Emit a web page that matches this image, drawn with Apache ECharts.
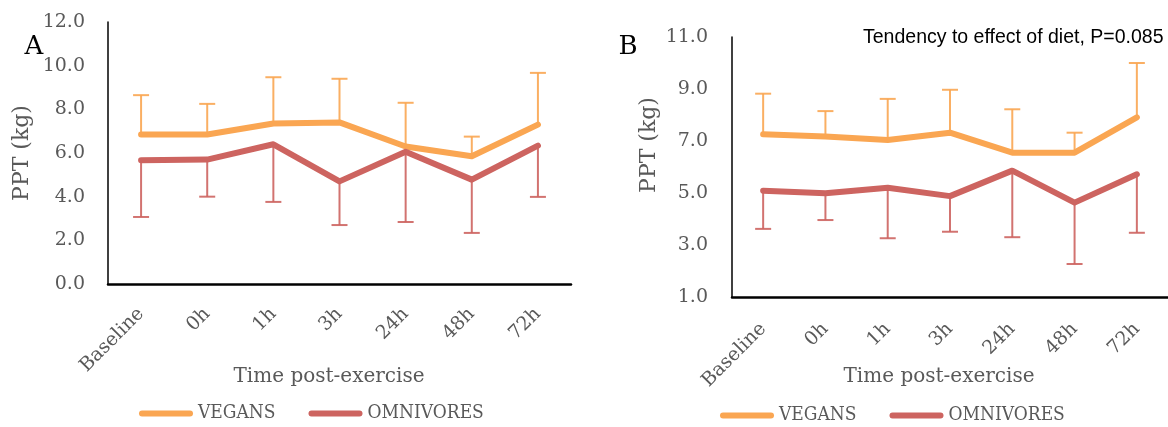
<!DOCTYPE html>
<html>
<head>
<meta charset="utf-8">
<script src="https://cdn.jsdelivr.net/npm/echarts@6/dist/echarts.min.js"></script>
<style>html,body{margin:0;padding:0;background:#fff}#c{width:1168px;height:427px}</style>
</head>
<body>
<div id="c"></div>
<script>
// ---- data ----
const categories = ['Baseline', '0h', '1h', '3h', '24h', '48h', '72h'];
const seriesNames = ['VEGANS', 'OMNIVORES'];

// Panel A
const veganA = [6.85, 6.85, 7.35, 7.4, 6.3, 5.85, 7.3];
const veganA_sd = [1.8, 1.4, 2.12, 2.0, 2.0, 0.9, 2.37];
const omniA = [5.67, 5.7, 6.4, 4.7, 6.06, 4.78, 6.34];
const omniA_sd = [2.6, 1.7, 2.64, 2.0, 3.22, 2.44, 2.35];
const yTicksA = [0, 2, 4, 6, 8, 10, 12];

// Panel B
const veganB = [7.26, 7.17, 7.04, 7.32, 6.55, 6.55, 7.91];
const veganB_sd = [1.56, 0.98, 1.58, 1.65, 1.67, 0.77, 2.09];
const omniB = [5.09, 4.99, 5.2, 4.88, 5.86, 4.63, 5.72];
const omniB_sd = [1.47, 1.03, 1.94, 1.37, 2.56, 2.36, 2.25];
const yTicksB = [1, 3, 5, 7, 9, 11];

const xTitle = 'Time post-exercise';
const yTitle = 'PPT (kg)';
const note = 'Tendency to effect of diet, P=0.085';

// ---- styles ----
const ORANGE = '#FAA652';
const RED = '#CD6460';
const GREY = '#595959';
const SERIF = 'DejaVu Serif';

function errRender(color, dir) {
  return function (params, api) {
    const x = api.value(0), m = api.value(1), s = api.value(2);
    const p0 = api.coord([x, m]);
    const p1 = api.coord([x, m + dir * s]);
    const half = 8;
    const style = { stroke: color, lineWidth: 2, opacity: 0.9 };
    return {
      type: 'group',
      children: [
        { type: 'line', shape: { x1: p0[0], y1: p0[1], x2: p1[0], y2: p1[1] }, style: style },
        { type: 'line', shape: { x1: p1[0] - half, y1: p1[1], x2: p1[0] + half, y2: p1[1] }, style: style }
      ]
    };
  };
}
function errData(means, sds) {
  return means.map((m, i) => [i, m, sds[i]]);
}

function xAxisCfg(gridIndex, margin) {
  return {
    type: 'category', gridIndex: gridIndex, data: categories, boundaryGap: true,
    axisLine: { lineStyle: { color: '#000', width: 2.5 } },
    axisTick: { show: false },
    axisLabel: { rotate: 45, interval: 0, margin: margin, color: GREY, fontFamily: SERIF, fontSize: 19 },
    splitLine: { show: false }
  };
}
function yAxisCfg(gridIndex, min, max, ticks, margin) {
  return {
    type: 'value', gridIndex: gridIndex, min: min, max: max,
    axisLine: { show: true, lineStyle: { color: '#000', width: 1.5 } },
    axisTick: { show: false },
    splitLine: { show: false },
    axisLabel: {
      customValues: ticks, margin: margin, color: GREY, fontFamily: SERIF, fontSize: 19,
      padding: [5, 0, 0, 0],
      formatter: v => v.toFixed(1)
    }
  };
}
function lineSeries(name, data, color, idx) {
  return {
    name: name, type: 'line', xAxisIndex: idx, yAxisIndex: idx, data: data,
    symbol: 'none', z: 3,
    lineStyle: { color: color, width: 6, cap: 'round', join: 'round' },
    itemStyle: { color: color }
  };
}
function errSeries(name, means, sds, color, dir, idx) {
  return {
    name: name, type: 'custom', xAxisIndex: idx, yAxisIndex: idx,
    data: errData(means, sds), encode: { x: 0, y: 1 },
    renderItem: errRender(color, dir), z: 2, silent: true
  };
}

const LEG_ICON = 'path://M3,0 L51,0 A3,3 0 0 1 51,6 L3,6 A3,3 0 0 1 3,0 Z';
function legendCfg(left, top) {
  return {
    data: seriesNames, left: left, top: top, orient: 'horizontal', padding: 0,
    icon: LEG_ICON, itemWidth: 54, itemHeight: 6, itemGap: 33,
    textStyle: { color: GREY, fontFamily: 'DejaVu Serif Condensed', fontSize: 19 },
    selectedMode: false
  };
}
function txt(x, y, text, style, rotation) {
  return {
    type: 'text', x: x, y: y, rotation: rotation || 0,
    style: Object.assign({ text: text, align: 'center', verticalAlign: 'middle' }, style)
  };
}

const chart = echarts.init(document.getElementById('c'), null, { renderer: 'canvas' });
chart.setOption({
  animation: false,
  backgroundColor: '#fff',
  grid: [
    { left: 108, top: 22, width: 463, height: 262, containLabel: false },
    { left: 732, top: 37, width: 448.5, height: 260, containLabel: false }
  ],
  xAxis: [xAxisCfg(0, 27), xAxisCfg(1, 29)],
  yAxis: [yAxisCfg(0, 0, 12, yTicksA, 23), yAxisCfg(1, 1, 11, yTicksB, 24)],
  legend: [legendCfg(139, 404), legendCfg(720, 406)],
  series: [
    errSeries('errVA', veganA, veganA_sd, ORANGE, 1, 0),
    errSeries('errOA', omniA, omniA_sd, RED, -1, 0),
    lineSeries('VEGANS', veganA, ORANGE, 0),
    lineSeries('OMNIVORES', omniA, RED, 0),
    errSeries('errVB', veganB, veganB_sd, ORANGE, 1, 1),
    errSeries('errOB', omniB, omniB_sd, RED, -1, 1),
    lineSeries('VEGANS', veganB, ORANGE, 1),
    lineSeries('OMNIVORES', omniB, RED, 1)
  ],
  graphic: [
    txt(34, 47, 'A', { fill: '#000', font: '26px "DejaVu Serif"' }),
    txt(628, 47, 'B', { fill: '#000', font: '26px "DejaVu Serif"' }),
    txt(22, 153, yTitle, { fill: GREY, font: '22px "DejaVu Serif"' }, Math.PI / 2),
    txt(649, 145, yTitle, { fill: GREY, font: '22px "DejaVu Serif"' }, Math.PI / 2),
    txt(329, 377, xTitle, { fill: GREY, font: '20px "DejaVu Serif"' }),
    txt(939, 377, xTitle, { fill: GREY, font: '20px "DejaVu Serif"' }),
    { type: 'text', x: 863, y: 38, style: { text: note, fill: '#000', font: '19.5px "Liberation Sans"', align: 'left', verticalAlign: 'middle' } }
  ]
});
</script>
</body>
</html>
